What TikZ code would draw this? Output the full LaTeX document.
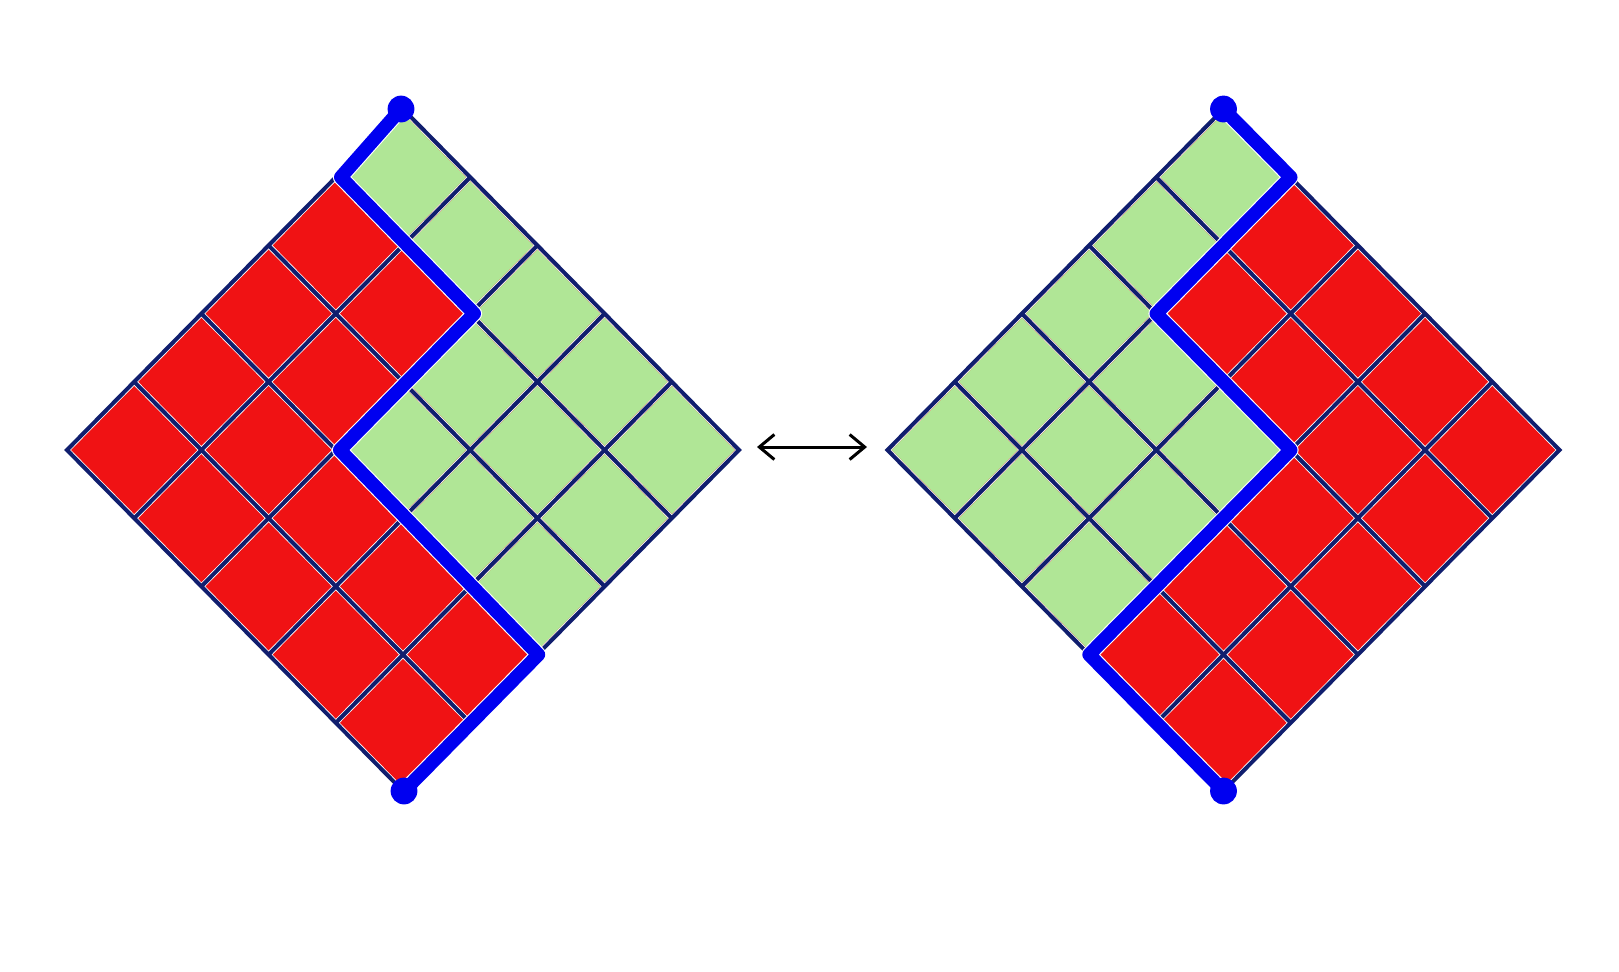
\documentclass[tikz,border=0pt]{standalone}
\usetikzlibrary{arrows.meta}
\definecolor{cellred}{RGB}{240,18,20}
\definecolor{cellgreen}{RGB}{176,230,150}
\definecolor{gridnavy}{RGB}{16,30,110}
\definecolor{pathblue}{RGB}{0,0,240}
\tikzset{
  gridline/.style={draw=gridnavy, line width=2pt},
  bluehalo/.style={draw=white, line width=7.9pt, line join=round, line cap=round},
  bluepath/.style={draw=pathblue, line width=6.8pt, line join=round, line cap=round},
  enddot/.style={fill=pathblue},
  redcell/.style={fill=cellred},
  greencell/.style={fill=cellgreen},
  dblarrow/.style={{Straight Barb[length=7.5pt,width=12.5pt]}-{Straight Barb[length=7.5pt,width=12.5pt]}, line width=1.5pt, black},
  diamondframe/.style={x={(-33.6pt,-34.1pt)}, y={(33.6pt,-34.1pt)}}
}
\newcommand\cellat[3]{\fill[#3] (#1+0.031,#2+0.031) -- (#1+0.969,#2+0.031) -- (#1+0.969,#2+0.969) -- (#1+0.031,#2+0.969) -- cycle;}
\begin{document}
\begin{tikzpicture}[x=0.5pt,y=-0.5pt]
\useasboundingbox (0,0) rectangle (1619,971);
\fill[white] (0,0) rectangle (1619,971);

% ---------- left diamond ----------
\begin{scope}[shift={(403,109)}, diamondframe]
  \foreach \a in {0,...,4} \foreach \b in {0,...,4} {\cellat{\a}{\b}{redcell}}
  \foreach \a/\b in {0/0,0/1,0/2,0/3,0/4,1/2,1/3,1/4,2/2,2/3,2/4} {\cellat{\a}{\b}{greencell}}
  \foreach \i in {1,...,4} {\draw[gridline] (\i,0) -- (\i,5); \draw[gridline] (0,\i) -- (5,\i);}
  \draw[gridline, line join=miter] (0,0) -- (5,0) -- (5,5) -- (0,5) -- cycle;
  \coordinate (Ltop) at ([xshift=-1pt]0,0);
  \coordinate (L1) at ([xshift=2.5pt]1,0);
  \coordinate (L2) at ([xshift=2pt]1,2);
  \coordinate (L3) at ([xshift=2pt]3,2);
  \coordinate (L4) at ([xshift=0.5pt]3,5);
  \coordinate (Lbot) at ([xshift=0.5pt]5,5);
\end{scope}
\draw[bluehalo] (Ltop) -- (L1) -- (L2) -- (L3) -- (L4) -- (Lbot);
\draw[bluepath] (Ltop) -- (L1) -- (L2) -- (L3) -- (L4) -- (Lbot);
\fill[enddot] (Ltop) circle[radius=6.7pt];
\fill[enddot] (Lbot) circle[radius=6.7pt];

% ---------- right diamond ----------
\begin{scope}[shift={(1223.5,109)}, diamondframe]
  \foreach \a in {0,...,4} \foreach \b in {0,...,4} {\cellat{\a}{\b}{redcell}}
  \foreach \a/\b in {0/0,1/0,2/0,3/0,4/0,2/1,3/1,4/1,2/2,3/2,4/2} {\cellat{\a}{\b}{greencell}}
  \foreach \i in {1,...,4} {\draw[gridline] (\i,0) -- (\i,5); \draw[gridline] (0,\i) -- (5,\i);}
  \draw[gridline, line join=miter] (0,0) -- (5,0) -- (5,5) -- (0,5) -- cycle;
  \coordinate (Rtop) at (0,0);
  \coordinate (R1) at (0,1);
  \coordinate (R2) at (2,1);
  \coordinate (R3) at (2,3);
  \coordinate (R4) at (5,3);
  \coordinate (Rbot) at (5,5);
\end{scope}
\draw[bluehalo] (Rtop) -- (R1) -- (R2) -- (R3) -- (R4) -- (Rbot);
\draw[bluepath] (Rtop) -- (R1) -- (R2) -- (R3) -- (R4) -- (Rbot);
\fill[enddot] (Rtop) circle[radius=6.7pt];
\fill[enddot] (Rbot) circle[radius=6.7pt];

% ---------- double arrow ----------
\coordinate (arrL) at (757,447);
\coordinate (arrR) at (867,447);
\draw[dblarrow] (arrL) -- (arrR);
\end{tikzpicture}
\end{document}
